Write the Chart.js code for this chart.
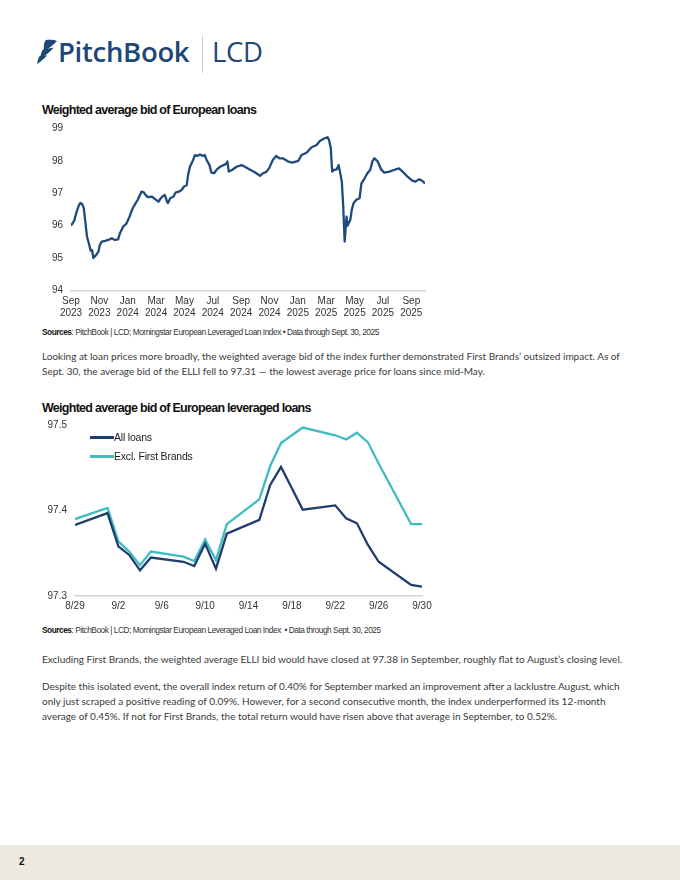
<!DOCTYPE html>
<html><head><meta charset="utf-8">
<script src="https://cdn.jsdelivr.net/npm/chart.js@4.4.1/dist/chart.umd.min.js"></script>
<style>
html,body{margin:0;padding:0;background:#fff;}
body{width:680px;height:880px;position:relative;overflow:hidden;font-family:'Liberation Sans',Arial,sans-serif;color:#222;}
.abs{position:absolute;white-space:nowrap;}
.brand{font-family:'Open Sans',sans-serif;font-weight:600;color:#1d4777;font-size:27.5px;line-height:1;letter-spacing:-0.3px;}
.title{font-family:'Liberation Sans',Arial,sans-serif;font-weight:bold;font-size:12.5px;line-height:1;color:#111;letter-spacing:-0.72px;}
.src{font-size:8.3px;line-height:1;color:#333;letter-spacing:-0.46px;}
.src b{color:#111;}
.body{font-family:'Lato',sans-serif;font-size:10px;line-height:15px;color:#3a3a3a;}
.leg{font-size:10.5px;line-height:1;color:#222;letter-spacing:-0.2px;}
.legline{position:absolute;height:2.5px;width:24px;}
#footer{position:absolute;left:0;top:845px;width:680px;height:35px;background:#ede9df;}
</style></head>
<body>
<svg class="abs" style="left:36px;top:39px" width="22" height="26" viewBox="0 0 20 24">
  <path d="M9 1 C14 0 19 1 19 2 C16 5 13 8 9 10 L7 11 C7 7 7 3 9 1 Z" fill="#1d4777"/>
  <path d="M6 10 C8 9 14 8 16 8 C13 12 9 15 4 17 C4 14 5 12 6 10 Z" fill="#1d4777"/>
  <path d="M3 16 C6 15 9 15 10 15 C8 18 5 20 1 23 C1 20 2 18 3 16 Z" fill="#1d4777"/>
</svg>
<div class="abs brand" style="left:58px;top:38px;">PitchBook</div>
<div class="abs" style="left:202px;top:35px;width:1px;height:38px;background:#cfcfcf;"></div>
<div class="abs brand" style="left:212px;top:38px;font-weight:500;">LCD</div>

<div class="abs title" style="left:42px;top:104px;">Weighted average bid of European loans</div>
<div class="abs" style="left:30px;top:118px;width:400px;height:205px;"><canvas id="c1"></canvas></div>
<div class="abs src" style="left:42px;top:328px;"><b>Sources</b>: PitchBook | LCD; Morningstar European Leveraged Loan Index • Data through Sept. 30, 2025</div>

<div class="abs body" style="left:42px;top:349px;">Looking at loan prices more broadly, the weighted average bid of the index further demonstrated First Brands’ outsized impact. As of<br>Sept. 30, the average bid of the ELLI fell to 97.31 — the lowest average price for loans since mid-May.</div>

<div class="abs title" style="left:42px;top:402px;">Weighted average bid of European leveraged loans</div>
<div class="abs" style="left:30px;top:418px;width:414px;height:200px;"><canvas id="c2"></canvas></div>
<div class="legline" style="left:90px;top:436px;background:#1f3d6d;"></div>
<div class="abs leg" style="left:114px;top:432px;">All loans</div>
<div class="legline" style="left:90px;top:455px;background:#3fbcc2;"></div>
<div class="abs leg" style="left:114px;top:451px;">Excl. First Brands</div>
<div class="abs src" style="left:42px;top:626px;"><b>Sources</b>: PitchBook | LCD; Morningstar European Leveraged Loan Index &nbsp;• Data through Sept. 30, 2025</div>

<div class="abs body" style="left:42px;top:652px;">Excluding First Brands, the weighted average ELLI bid would have closed at 97.38 in September, roughly flat to August’s closing level.</div>
<div class="abs body" style="left:42px;top:679px;">Despite this isolated event, the overall index return of 0.40% for September marked an improvement after a lacklustre August, which<br>only just scraped a positive reading of 0.09%. However, for a second consecutive month, the index underperformed its 12-month<br>average of 0.45%. If not for First Brands, the total return would have risen above that average in September, to 0.52%.</div>

<div id="footer"></div>
<div class="abs" style="left:19px;top:856px;font-weight:bold;font-size:10px;color:#111;">2</div>

<script>
// ---------- Chart 1 data: weighted average bid of European loans ----------
const bidDates = [
'2023-09-01','2023-09-08','2023-09-12','2023-09-18','2023-09-21','2023-09-25','2023-09-28','2023-10-02','2023-10-05','2023-10-09',
'2023-10-13','2023-10-16','2023-10-19','2023-10-24','2023-10-30','2023-11-02','2023-11-06','2023-11-13','2023-11-20','2023-11-27',
'2023-12-04','2023-12-11','2023-12-15','2023-12-22','2023-12-29','2024-01-05','2024-01-12','2024-01-18','2024-01-23','2024-01-31',
'2024-02-05','2024-02-07','2024-02-13','2024-02-21','2024-02-28','2024-03-06','2024-03-11','2024-03-15','2024-03-20','2024-03-25',
'2024-03-27','2024-04-01','2024-04-08','2024-04-12','2024-04-19','2024-04-25','2024-04-30','2024-05-06','2024-05-09','2024-05-13',
'2024-05-20','2024-05-24','2024-05-29','2024-06-04','2024-06-10','2024-06-14','2024-06-18','2024-06-24','2024-06-28','2024-07-04',
'2024-07-10','2024-07-17','2024-07-29','2024-08-02','2024-08-05','2024-08-12','2024-08-22','2024-09-02','2024-09-09','2024-09-20',
'2024-09-30','2024-10-11','2024-10-18','2024-10-25','2024-10-31','2024-11-08','2024-11-15','2024-11-22','2024-11-29','2024-12-11',
'2024-12-20','2025-01-02','2025-01-09','2025-01-20','2025-01-31','2025-02-10','2025-02-17','2025-02-26','2025-03-04','2025-03-07',
'2025-03-11','2025-03-14','2025-03-18','2025-03-24','2025-03-28','2025-03-31','2025-04-04','2025-04-07','2025-04-09','2025-04-10',
'2025-04-14','2025-04-16','2025-04-22','2025-04-25','2025-04-29','2025-05-05','2025-05-12','2025-05-16','2025-05-22','2025-05-29',
'2025-06-04','2025-06-09','2025-06-13','2025-06-20','2025-06-27','2025-07-04','2025-07-15','2025-07-25','2025-08-05','2025-08-13',
'2025-08-22','2025-09-03','2025-09-10','2025-09-17','2025-09-22','2025-09-30'];
const bidValues = [
96.00,96.16,96.39,96.64,96.70,96.66,96.55,96.03,95.66,95.46,
95.23,95.25,95.00,95.08,95.20,95.41,95.51,95.53,95.56,95.61,
95.56,95.58,95.77,95.97,96.06,96.28,96.54,96.69,96.80,97.05,
97.03,96.98,96.88,96.90,96.82,96.74,96.84,96.90,96.95,96.74,
96.70,96.85,96.90,97.02,97.05,97.10,97.21,97.25,97.57,97.82,
98.03,98.18,98.15,98.20,98.15,98.18,98.03,97.87,97.64,97.62,
97.74,97.82,97.90,97.98,97.67,97.72,97.82,97.87,97.82,97.73,
97.65,97.54,97.62,97.66,97.77,98.03,98.15,98.08,98.08,97.98,
97.95,98.00,98.18,98.25,98.42,98.49,98.62,98.70,98.73,98.65,
98.39,97.67,97.72,97.74,97.87,97.67,97.36,96.59,95.87,95.51,
96.28,96.00,96.18,96.49,96.70,96.80,96.85,97.31,97.44,97.62,
97.72,98.00,98.08,97.98,97.74,97.64,97.67,97.72,97.77,97.67,
97.54,97.39,97.36,97.43,97.41,97.31];
const bidTickLabels = [['Sep','2023'],['Nov','2023'],['Jan','2024'],['Mar','2024'],['May','2024'],['Jul','2024'],
  ['Sep','2024'],['Nov','2024'],['Jan','2025'],['Mar','2025'],['May','2025'],['Jul','2025'],['Sep','2025']];

// ---------- Chart 2 data: September 2025 daily ----------
const septDates = ['2025-08-29','2025-09-01','2025-09-02','2025-09-03','2025-09-04','2025-09-05','2025-09-08','2025-09-09',
  '2025-09-10','2025-09-11','2025-09-12','2025-09-15','2025-09-16','2025-09-17','2025-09-18','2025-09-19','2025-09-22',
  '2025-09-23','2025-09-24','2025-09-25','2025-09-26','2025-09-29','2025-09-30'];
const allLoans = [97.383,97.397,97.358,97.348,97.330,97.345,97.340,97.335,97.361,97.332,97.373,97.389,97.430,97.451,97.426,
  97.401,97.406,97.391,97.385,97.360,97.340,97.313,97.311];
const exclFirstBrands = [97.390,97.403,97.364,97.352,97.336,97.352,97.346,97.341,97.366,97.342,97.384,97.413,97.452,97.479,
  97.488,97.497,97.488,97.483,97.491,97.480,97.455,97.384,97.384];
const septTickLabels = ['8/29','9/2','9/6','9/10','9/14','9/18','9/22','9/26','9/30'];

// ---------- helpers ----------
function monthIndex(s){const [y,m,d]=s.split('-').map(Number);const dim=new Date(Date.UTC(y,m,0)).getUTCDate();return (y-2023)*12+(m-9)+(d-1)/dim;}
function dayIndex(s){const [y,m,d]=s.split('-').map(Number);return Math.round((Date.UTC(y,m-1,d)-Date.UTC(2025,7,29))/86400000);}
function fixX(h){return (s)=>{s.height=h;s.paddingLeft=0;s.paddingRight=0;s.paddingTop=0;s.paddingBottom=0;};}
function fixY(w){return (s)=>{s.width=w;s.paddingLeft=0;s.paddingRight=0;s.paddingTop=0;s.paddingBottom=0;};}

Chart.defaults.font.family = "'Liberation Sans', Arial, sans-serif";
Chart.defaults.color = '#333';
Chart.defaults.animation = false;

new Chart(document.getElementById('c1'), {
  type:'line',
  data:{datasets:[{data:bidDates.map((d,i)=>({x:monthIndex(d),y:bidValues[i]})),borderColor:'#1e4a7c',borderWidth:2.3,pointRadius:0,tension:0,borderJoinStyle:'round'}]},
  options:{
    responsive:true,maintainAspectRatio:false,
    layout:{padding:{top:10.5,right:5,left:0,bottom:0}},
    plugins:{legend:{display:false},tooltip:{enabled:false}},
    scales:{
      x:{type:'linear',min:0,max:monthIndex('2025-09-30'),
        afterBuildTicks:(s)=>{s.ticks=bidTickLabels.map((_,i)=>({value:i*2}));},
        afterFit:fixX(32.5),
        ticks:{autoSkip:false,maxRotation:0,padding:4,font:{size:10,lineHeight:1.25},color:'#333',callback:(v)=>bidTickLabels[Math.round(v/2)]},
        grid:{display:false,drawTicks:false},border:{display:true,color:'#d6d6d6',width:1.5}},
      y:{min:94,max:99,afterFit:fixY(41),
        ticks:{stepSize:1,padding:8,font:{size:10},color:'#333'},
        grid:{display:false,drawTicks:false},border:{display:false}}
    }
  }
});

new Chart(document.getElementById('c2'), {
  type:'line',
  data:{datasets:[
    {label:'All loans',data:septDates.map((d,i)=>({x:dayIndex(d),y:allLoans[i]})),borderColor:'#1f3d6d',borderWidth:2.3,pointRadius:0,tension:0},
    {label:'Excl. First Brands',data:septDates.map((d,i)=>({x:dayIndex(d),y:exclFirstBrands[i]})),borderColor:'#3fbcc2',borderWidth:2.3,pointRadius:0,tension:0}
  ]},
  options:{
    responsive:true,maintainAspectRatio:false,
    layout:{padding:{top:7,right:22,left:0,bottom:0}},
    plugins:{legend:{display:false},tooltip:{enabled:false}},
    scales:{
      x:{type:'linear',min:0,max:32,
        afterBuildTicks:(s)=>{s.ticks=septTickLabels.map((_,i)=>({value:i*4}));},
        afterFit:fixX(22),
        ticks:{autoSkip:false,maxRotation:0,padding:4,font:{size:10},color:'#333',callback:(v)=>septTickLabels[Math.round(v/4)]},
        grid:{display:false,drawTicks:false},border:{display:true,color:'#d6d6d6',width:1.5}},
      y:{min:97.3,max:97.5,afterFit:fixY(45),
        afterBuildTicks:(s)=>{s.ticks=[{value:97.3},{value:97.4},{value:97.5}];},
        ticks:{padding:8,font:{size:10},color:'#333',callback:(v)=>v.toFixed(1)},
        grid:{display:false,drawTicks:false},border:{display:false}}
    }
  }
});
</script>
</body></html>
